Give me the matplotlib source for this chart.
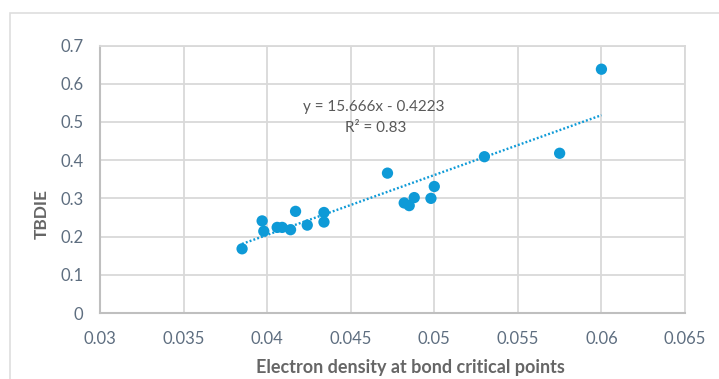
import numpy as np
import matplotlib.pyplot as plt
from matplotlib.patches import Rectangle

plt.rcParams['font.family'] = ['Lato', 'DejaVu Sans']

# electron density at bond critical points vs TBDIE
rho = [0.0385, 0.0397, 0.0398, 0.0406, 0.0409, 0.0414, 0.0417, 0.0424,
       0.0434, 0.0434, 0.0472, 0.0482, 0.0485, 0.0488, 0.0498, 0.0500,
       0.0530, 0.0575, 0.0600]
tbdie = [0.168, 0.241, 0.214, 0.224, 0.224, 0.218, 0.266, 0.230,
         0.263, 0.238, 0.366, 0.288, 0.281, 0.302, 0.300, 0.331,
         0.409, 0.418, 0.638]
slope = 15.666
intercept = -0.4223
eq_text = 'y = 15.666x - 0.4223'
r2_text = 'R² = 0.83'
xticks = [0.03, 0.035, 0.04, 0.045, 0.05, 0.055, 0.06, 0.065]
xtick_labels = ['0.03', '0.035', '0.04', '0.045', '0.05', '0.055', '0.06', '0.065']
yticks = [0, 0.1, 0.2, 0.3, 0.4, 0.5, 0.6, 0.7]
ytick_labels = ['0', '0.1', '0.2', '0.3', '0.4', '0.5', '0.6', '0.7']

blue = '#0e9ad7'
grid = '#d9d9d9'
tickc = '#5e6e80'

fig = plt.figure(figsize=(7.19, 3.79), dpi=100)
ax = fig.add_axes([100/719, 1-313/379, 585/719, 267.5/379])

# outer chart border (cut off at right/bottom)
fig.patches.append(Rectangle((10/719, -0.05), 1.0, 1-13/379+0.05,
                             transform=fig.transFigure, fill=False,
                             edgecolor='#dedede', lw=1.2))

xfit = np.array([min(rho), max(rho)])
ax.plot(xfit, slope*xfit + intercept, color=blue, lw=1.7,
        linestyle=(0, (0.8, 0.9)), dash_capstyle='butt', zorder=2)
ax.scatter(rho, tbdie, s=66, color=blue, edgecolors='none', zorder=3)

ax.set_xlim(0.03, 0.065)
ax.set_ylim(0, 0.7)
ax.set_xticks(xticks)
ax.set_xticklabels(xtick_labels)
ax.set_yticks(yticks)
ax.set_yticklabels(ytick_labels)
ax.tick_params(length=0, labelsize=12, colors=tickc, pad=13)
ax.tick_params(axis='y', pad=12)
ax.grid(True, color=grid, lw=1.3)
ax.set_axisbelow(True)
for s in ['top', 'right']:
    ax.spines[s].set_color(grid)
    ax.spines[s].set_linewidth(1.3)
for s in ['left', 'bottom']:
    ax.spines[s].set_color('#bfbfbf')
    ax.spines[s].set_linewidth(1.5)

ax.text(0.0464, 0.539, eq_text, ha='center', va='center', fontsize=11, color='#595959')
ax.text(0.0465, 0.483, r2_text, ha='center', va='center', fontsize=11, color='#595959')

fig.text(410/719, 1-368/379, 'Electron density at bond critical points',
         ha='center', va='center', fontsize=13, fontweight='bold', color='#666666')
fig.text(42/719, 1-214/379, 'TBDIE', ha='center', va='center', rotation=90,
         fontsize=12.5, fontweight='bold', color='#666666')

fig.savefig('out.png', dpi=100)
